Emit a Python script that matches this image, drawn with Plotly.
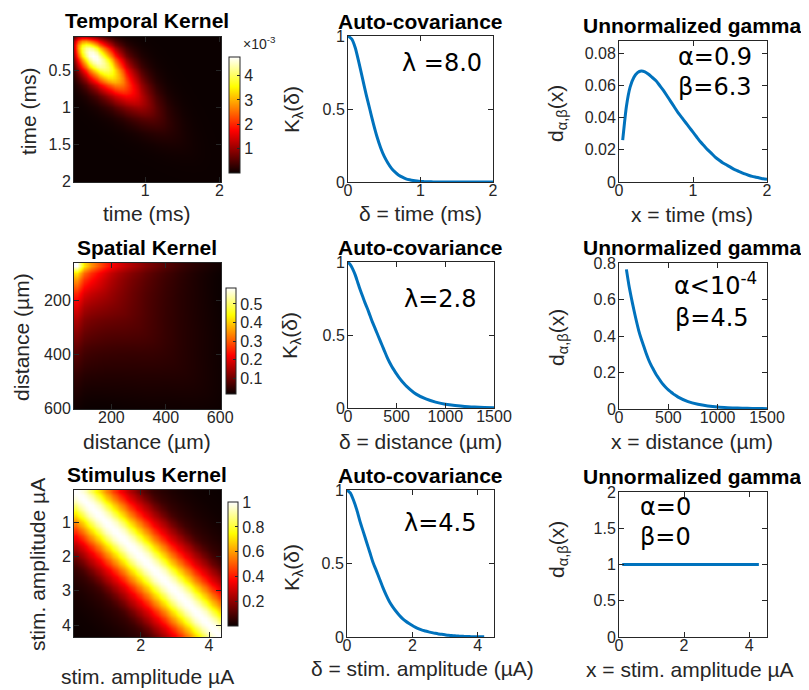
import numpy as np
import plotly.graph_objects as go

W, H = 809, 690
OFF = 8   # page body margin of the written html: shift everything back by it
FONT = "Liberation Sans, Arial, sans-serif"
ANN_FONT = "DejaVu Sans, sans-serif"
AX = "#262626"
BLUE = "#0072BD"
HOT = [[0.0, "rgb(11,0,0)"], [0.365, "rgb(255,0,0)"], [0.746, "rgb(255,255,0)"], [1.0, "rgb(255,255,255)"]]

# ---------------- data ----------------
# Temporal (ms)
time_grid = [round(0.05 * k, 2) for k in range(1, 41)]          # 0.05 .. 2.0
d_time = [0.026, 0.047, 0.059, 0.065, 0.068, 0.069, 0.0685, 0.067, 0.065, 0.063,
          0.060, 0.057, 0.0535, 0.050, 0.0465, 0.043, 0.040, 0.037, 0.034, 0.031,
          0.028, 0.025, 0.0225, 0.020, 0.0178, 0.0155, 0.0137, 0.012, 0.0107, 0.0094,
          0.008, 0.007, 0.006, 0.005, 0.0042, 0.0035, 0.003, 0.0025, 0.002, 0.0017]
delta_time = [round(0.05 * k, 2) for k in range(0, 41)]         # 0 .. 2.0
K_time = [1.0, 0.98, 0.92, 0.82, 0.71, 0.60, 0.50, 0.40, 0.31, 0.235,
          0.175, 0.13, 0.093, 0.067, 0.047, 0.033, 0.022, 0.015, 0.010, 0.0065,
          0.004, 0.0025, 0.0015, 0.001, 0.0006, 0.0004, 0.0002, 0.0001, 0, 0,
          0, 0, 0, 0, 0, 0, 0, 0, 0, 0, 0]

# Spatial (um)
dist_K = [0, 25, 50, 75, 100, 125, 150, 175, 200, 225, 250, 275, 300, 325, 350, 375,
          400, 425, 450, 475, 500, 525, 550, 575, 600, 700, 800, 900, 1000, 1100,
          1200, 1300, 1400, 1500]
K_dist = [1.0, 0.98, 0.95, 0.91, 0.86, 0.81, 0.765, 0.72, 0.68, 0.635, 0.59, 0.55,
          0.51, 0.47, 0.43, 0.39, 0.35, 0.315, 0.285, 0.258, 0.232, 0.208, 0.187,
          0.168, 0.15, 0.095, 0.062, 0.04, 0.026, 0.017, 0.01, 0.006, 0.003, 0.002]
dist_d = [75, 100, 125, 150, 175, 200, 225, 250, 275, 300, 325, 350, 375, 400, 425,
          450, 475, 500, 525, 550, 575, 600, 700, 800, 900, 1000, 1100, 1200, 1300,
          1400, 1500]
d_dist = [0.765, 0.68, 0.61, 0.545, 0.485, 0.43, 0.385, 0.345, 0.305, 0.27, 0.24,
          0.215, 0.19, 0.17, 0.15, 0.133, 0.118, 0.105, 0.094, 0.083, 0.074, 0.065,
          0.04, 0.026, 0.017, 0.011, 0.0075, 0.005, 0.0035, 0.0025, 0.002]
dist_map = [75, 100, 125, 150, 175, 200, 225, 250, 275, 300, 325, 350, 375, 400, 425,
            450, 475, 500, 525, 550, 575, 600]
d_dist_map = [0.765, 0.56, 0.48, 0.43, 0.39, 0.36, 0.335, 0.315, 0.295, 0.28, 0.265,
              0.25, 0.235, 0.22, 0.21, 0.2, 0.19, 0.18, 0.17, 0.16, 0.15, 0.14]

# Stimulus amplitude (uA)
amp_grid = [round(0.1 * k, 1) for k in range(1, 44)]            # 0.1 .. 4.3
delta_amp = [round(0.1 * k, 1) for k in range(0, 43)]           # 0 .. 4.2
K_amp = [1.0, 0.98, 0.93, 0.865, 0.785, 0.715, 0.645, 0.575, 0.505, 0.45,
         0.393, 0.336, 0.285, 0.24, 0.205, 0.175, 0.148, 0.125, 0.107, 0.092,
         0.078, 0.066, 0.056, 0.047, 0.041, 0.035, 0.03, 0.025, 0.021, 0.018,
         0.015, 0.012, 0.01, 0.008, 0.0065, 0.005, 0.004, 0.003, 0.0025, 0.002,
         0.0015, 0.001, 0.001]
# band profile of the stimulus kernel image (distance from the diagonal)
K_amp_map = [1.0, 0.99, 0.965, 0.93, 0.875, 0.815, 0.75, 0.69, 0.635, 0.58,
             0.525, 0.47, 0.42, 0.37, 0.33, 0.29, 0.255, 0.22, 0.185, 0.15,
             0.125, 0.1, 0.08, 0.068, 0.058, 0.05, 0.044, 0.038, 0.033, 0.029,
             0.025, 0.022, 0.019, 0.017, 0.014, 0.012, 0.011, 0.01, 0.009, 0.008,
             0.007, 0.006, 0.005]
d_amp = [1.0] * len(amp_grid)


def kernel(d, K, n):
    d = np.asarray(d[:n]); K = np.asarray(K)
    idx = np.abs(np.arange(n)[:, None] - np.arange(n)[None, :])
    return d[:, None] * d[None, :] * K[idx]


Z_time = kernel(d_time, K_time, len(time_grid))
Z_dist = kernel(d_dist_map, K_dist, len(dist_map))
Z_amp = kernel(d_amp, K_amp_map, len(amp_grid))

# ---------------- layout helpers (pixel positions on the screenshot) ----------------
def fx(p):
    return (p - OFF) / W


def fy(p):
    return 1 - (p - OFF) / H


boxes = {
    1: ((74, 221), (37, 182)), 2: ((348, 493), (36, 182)), 3: ((619, 767), (41, 182)),
    4: ((74, 221), (263, 409)), 5: ((348, 494), (262, 408)), 6: ((619, 767), (263, 409)),
    7: ((74, 221), (490, 637)), 8: ((347, 494), (490, 637)), 9: ((619, 767), (492, 637)),
}
xranges = {1: [0.045, 2.02], 2: [0, 2], 3: [0, 2], 4: [62.5, 603], 5: [0, 1500],
           6: [0, 1500], 7: [0.05, 4.35], 8: [0, 4.5], 9: [0, 4.55]}
yranges = {1: [2.01, 0.047], 2: [0, 1], 3: [0, 0.0877], 4: [603, 62.5], 5: [0, 1],
           6: [0, 0.8], 7: [4.35, 0.05], 8: [0, 1], 9: [0, 2]}
xticks = {1: [1, 2], 2: [0, 1, 2], 3: [0, 1, 2], 4: [200, 400, 600], 5: [0, 500, 1000, 1500],
          6: [0, 500, 1000, 1500], 7: [2, 4], 8: [0, 2, 4], 9: [0, 2, 4]}
yticks = {1: [0.5, 1, 1.5, 2], 2: [0, 0.5, 1], 3: [0, 0.02, 0.04, 0.06, 0.08],
          4: [200, 400, 600], 5: [0, 0.5, 1], 6: [0, 0.2, 0.4, 0.6, 0.8], 7: [1, 2, 3, 4],
          8: [0, 0.5, 1], 9: [0, 0.5, 1, 1.5, 2]}

fig = go.Figure()

common_cb = dict(outlinewidth=1, outlinecolor=AX, ticks="inside", ticklen=3, tickcolor=AX,
                 tickfont=dict(size=16, family=FONT, color=AX), lenmode="pixels",
                 xanchor="left", yanchor="middle", xpad=0, ypad=0)
LINE = dict(color=BLUE, width=3, shape="spline", smoothing=0.6)

fig.add_trace(go.Heatmap(x=time_grid, y=time_grid, z=Z_time, colorscale=HOT, zsmooth="best",
                         xaxis="x", yaxis="y",
                         colorbar=dict(common_cb, x=fx(229), y=fy(115), len=116, thickness=11,
                                       tickvals=[0.001, 0.002, 0.003, 0.004],
                                       ticktext=["1", "2", "3", "4"])))
fig.add_trace(go.Scatter(x=delta_time, y=K_time, mode="lines", line=LINE, xaxis="x2", yaxis="y2"))
fig.add_trace(go.Scatter(x=time_grid, y=d_time, mode="lines", line=LINE, xaxis="x3", yaxis="y3"))

fig.add_trace(go.Heatmap(x=dist_map, y=dist_map, z=Z_dist, colorscale=HOT,
                         zsmooth="best", xaxis="x4", yaxis="y4",
                         colorbar=dict(common_cb, x=fx(226), y=fy(341), len=106, thickness=10,
                                       tickvals=[0.1, 0.2, 0.3, 0.4, 0.5])))
fig.add_trace(go.Scatter(x=dist_K, y=K_dist, mode="lines", line=LINE, xaxis="x5", yaxis="y5"))
fig.add_trace(go.Scatter(x=dist_d, y=d_dist, mode="lines", line=LINE, xaxis="x6", yaxis="y6"))

fig.add_trace(go.Heatmap(x=amp_grid, y=amp_grid, z=Z_amp, colorscale=HOT, zsmooth="best",
                         xaxis="x7", yaxis="y7",
                         colorbar=dict(common_cb, x=fx(228), y=fy(564), len=124, thickness=10,
                                       tickvals=[0.2, 0.4, 0.6, 0.8, 1.0],
                                       ticktext=["0.2", "0.4", "0.6", "0.8", "1"])))
fig.add_trace(go.Scatter(x=delta_amp, y=K_amp, mode="lines", line=LINE, xaxis="x8", yaxis="y8"))
fig.add_trace(go.Scatter(x=amp_grid, y=d_amp, mode="lines", line=dict(color=BLUE, width=3),
                         xaxis="x9", yaxis="y9"))

axis_style = dict(showline=True, mirror="ticks", linecolor=AX, linewidth=1, ticks="inside",
                  ticklen=5, tickcolor=AX, showgrid=False, zeroline=False, automargin=False,
                  tickfont=dict(size=16, family=FONT, color=AX))

layout = {}
for i in range(1, 10):
    (xa, xb), (yt, yb) = boxes[i]
    sx = "" if i == 1 else str(i)
    layout["xaxis" + sx] = dict(axis_style, domain=[fx(xa), fx(xb)], anchor="y" + sx, range=xranges[i],
                                tickvals=xticks[i], autorange=False, ticklabelstandoff=-6)
    layout["yaxis" + sx] = dict(axis_style, domain=[fy(yb), fy(yt)], anchor="x" + sx, range=yranges[i],
                                tickvals=yticks[i], autorange=False, ticklabelstandoff=-1)


def ann(text, xp, yp, size, bold=False, angle=0, family=FONT, xanchor="center", color=AX):
    if bold:
        text = "<b>" + text + "</b>"
    return dict(text=text, x=fx(xp), y=fy(yp), xref="paper", yref="paper", showarrow=False,
                font=dict(size=size, family=family, color=color), textangle=angle,
                xanchor=xanchor, yanchor="middle")


anns = []
# titles
for t, x, y in [("Temporal Kernel", 147, 20), ("Auto-covariance", 421, 21), ("Unnormalized gamma", 692, 25),
                ("Spatial Kernel", 147, 247), ("Auto-covariance", 421, 247), ("Unnormalized gamma", 692, 247),
                ("Stimulus Kernel", 147, 474), ("Auto-covariance", 421, 475), ("Unnormalized gamma", 692, 476)]:
    anns.append(ann(t, x, y, 21, bold=True, color="black"))
# x-axis titles
for t, x, y in [("time (ms)", 147, 213), ("δ = time (ms)", 421, 213), ("x = time (ms)", 692, 214),
                ("distance (µm)", 147, 441), ("δ = distance (µm)", 421, 441), ("x = distance (µm)", 692, 441),
                ("stim. amplitude µA", 147, 676), ("δ = stim. amplitude (µA)", 422, 668),
                ("x = stim. amplitude µA", 690, 669)]:
    anns.append(ann(t, x, y, 21))
# y-axis titles
for t, x, y in [("time (ms)", 29, 111), ("K<sub>λ</sub>(δ)", 293, 110), ("d<sub>α,β</sub>(x)", 557, 114),
                ("distance (µm)", 21, 337), ("K<sub>λ</sub>(δ)", 291, 336), ("d<sub>α,β</sub>(x)", 558, 338),
                ("stim. amplitude µA", 37, 565), ("K<sub>λ</sub>(δ)", 293, 568), ("d<sub>α,β</sub>(x)", 558, 550)]:
    anns.append(ann(t, x, y, 21, angle=-90))
# parameter annotations
for t, x, y in [("λ =8.0", 400, 63), ("λ=2.8", 402, 299), ("λ=4.5", 402, 523),
                ("α=0.9", 676, 57), ("β=6.3", 676, 87),
                ("α<10<sup>-4</sup>", 672, 284), ("β=4.5", 673, 318),
                ("α=0", 638, 507), ("β=0", 638, 537)]:
    anns.append(ann(t, x, y, 24, family=ANN_FONT, xanchor="left", color="black"))
# colorbar exponent
anns.append(ann("×10<sup>-3</sup>", 241, 43, 14, xanchor="left"))

fig.update_layout(layout)
fig.update_layout(width=W, height=H, margin=dict(l=0, r=0, t=0, b=0, pad=0, autoexpand=False),
                  autosize=False, paper_bgcolor="white", plot_bgcolor="white", showlegend=False,
                  annotations=anns, font=dict(family=FONT, color=AX))

fig.write_html("out.html")
